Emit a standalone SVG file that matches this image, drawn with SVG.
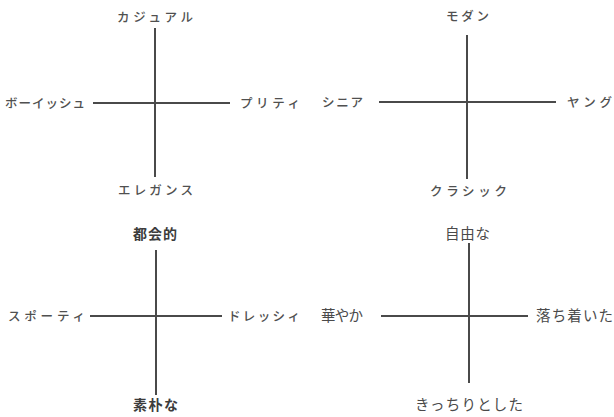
<svg xmlns="http://www.w3.org/2000/svg" width="614" height="417" viewBox="0 0 614 417">
<style>
.bg{fill:#ffffff}
.ax{stroke:#4a4a4a;stroke-width:2;fill:none;stroke-linecap:butt}
text{font-family:"Noto Sans CJK JP","Noto Sans CJK SC",sans-serif;fill:#505050}
.k{font-size:12.5px;font-weight:500}
.j{font-size:14px;font-weight:bold;fill:#3c3c3c}
.h{font-size:14.5px;fill:#4a4a4a}
</style>
<rect class="bg" x="0" y="0" width="614" height="417"/>
<g id="connectors">
<line class="ax" x1="155" y1="28" x2="155" y2="177"/>
<line class="ax" x1="93" y1="103" x2="230" y2="103"/>
<line class="ax" x1="467" y1="35" x2="467" y2="179"/>
<line class="ax" x1="379" y1="102" x2="556" y2="102"/>
<line class="ax" x1="156" y1="250" x2="156" y2="395"/>
<line class="ax" x1="90" y1="316" x2="222" y2="316"/>
<line class="ax" x1="469" y1="243" x2="469" y2="383"/>
<line class="ax" x1="381" y1="316" x2="528" y2="316"/>
</g>
<g id="q1">
<g id="casual"><text class="k" x="117" y="22" textLength="76" lengthAdjust="spacing">カジュアル</text></g>
<g id="boyish"><text class="k" x="5" y="108" textLength="80" lengthAdjust="spacing">ボーイッシュ</text></g>
<g id="pretty"><text class="k" x="240" y="108" textLength="60" lengthAdjust="spacing">プリティ</text></g>
<g id="elegance"><text class="k" x="118" y="195" textLength="75" lengthAdjust="spacing">エレガンス</text></g>
</g>
<g id="q2">
<g id="modern"><text class="k" x="446" y="21" textLength="43" lengthAdjust="spacing">モダン</text></g>
<g id="senior"><text class="k" x="322" y="107" textLength="41" lengthAdjust="spacing">シニア</text></g>
<g id="young"><text class="k" x="567" y="107" textLength="45" lengthAdjust="spacing">ヤング</text></g>
<g id="classic"><text class="k" x="430" y="196" textLength="77" lengthAdjust="spacing">クラシック</text></g>
</g>
<g id="q3">
<g id="urban"><text class="j" x="133" y="239" textLength="44" lengthAdjust="spacing">都会的</text></g>
<g id="sporty"><text class="k" x="8" y="321" textLength="77" lengthAdjust="spacing">スポーティ</text></g>
<g id="dressy"><text class="k" x="228" y="321" textLength="72" lengthAdjust="spacing">ドレッシィ</text></g>
<g id="simple"><text class="j" x="133" y="410" textLength="45" lengthAdjust="spacing">素朴な</text></g>
</g>
<g id="q4">
<g id="free"><text class="h" x="445" y="239" textLength="45" lengthAdjust="spacing">自由な</text></g>
<g id="gorgeous"><text class="h" x="321" y="321" textLength="42" lengthAdjust="spacing">華やか</text></g>
<g id="calm"><text class="h" x="536" y="321" textLength="77" lengthAdjust="spacing">落ち着いた</text></g>
<g id="neat"><text class="h" x="415" y="410" textLength="108" lengthAdjust="spacing">きっちりとした</text></g>
</g>
</svg>
